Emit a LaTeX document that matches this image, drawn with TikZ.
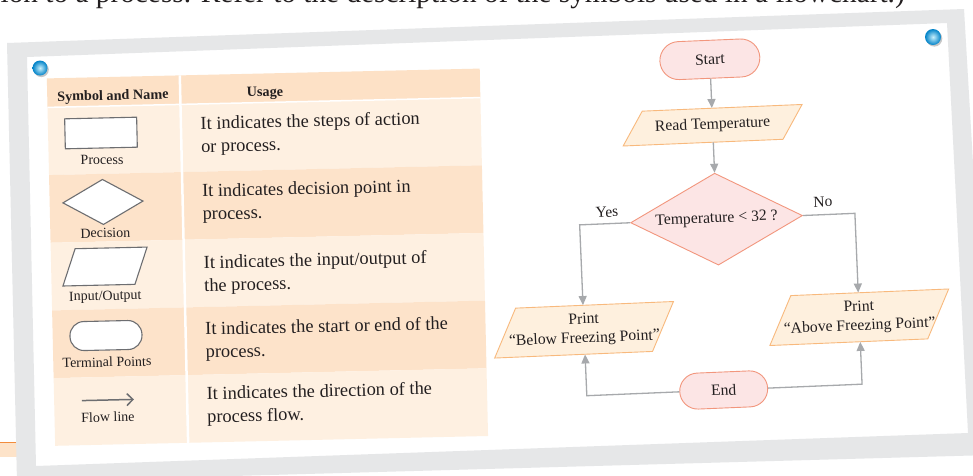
\documentclass[tikz,border=0pt]{standalone}
\usepackage{fontspec}
\setmainfont{Liberation Serif}
\usetikzlibrary{arrows.meta,shapes.geometric}
\definecolor{framegray}{RGB}{230,231,232}
\definecolor{pinkfill}{RGB}{252,229,229}
\definecolor{pinkline}{RGB}{242,150,125}
\definecolor{peachfill}{RGB}{254,240,222}
\definecolor{peachline}{RGB}{248,185,125}
\definecolor{arrgray}{RGB}{167,169,172}
\definecolor{txt}{RGB}{35,31,32}
\definecolor{hdr}{RGB}{253,225,198}
\definecolor{rowlight}{RGB}{254,240,225}
\definecolor{rowdark}{RGB}{253,227,202}
\definecolor{symgray}{RGB}{109,110,113}
\definecolor{dotin}{RGB}{200,240,252}
\definecolor{dotmid}{RGB}{20,175,238}
\definecolor{dotout}{RGB}{0,130,200}
\definecolor{orangebar}{RGB}{242,140,60}
\definecolor{barfill}{RGB}{253,227,201}
\tikzset{
  every node/.style={text=txt},
  term/.style={draw=pinkline, fill=pinkfill, line width=0.9, rounded corners=19,
    minimum width=100, minimum height=38, inner sep=0, font=\fontsize{15.7}{19}\selectfont},
  dec/.style={diamond, draw=pinkline, fill=pinkfill, line width=0.9, aspect=1.87,
    minimum width=172, minimum height=92, inner sep=0, font=\fontsize{15.7}{19}\selectfont},
  para/.style={draw=peachline, fill=peachfill, line width=0.9},
  pnode/.style={rectangle, draw=none, fill=none, inner sep=0, align=center,
    font=\fontsize{15.7}{19}\selectfont},
  lab/.style={inner sep=0, font=\fontsize{15.5}{18}\selectfont},
  arr/.style={draw=arrgray, line width=1.3, -{Triangle[length=9pt,width=8pt]}},
  sym/.style={draw=symgray, fill=white, line width=1.1},
  flowsym/.style={draw=symgray, line width=1.5, -{Straight Barb[length=6pt,width=12pt]}},
  lbl/.style={inner sep=0, font=\fontsize{14}{16}\selectfont},
  hd/.style={inner sep=0, anchor=base, font=\bfseries\fontsize{14.2}{16}\selectfont},
  usage/.style={anchor=west, align=left, inner sep=0, font=\fontsize{18.4}{23}\selectfont},
  bluedot/.style={inner color=dotin, outer color=dotout},
}
\newcommand\parashape[6][]{\path[#1] (#2-#4/2+#6/2,#3-#5/2) -- (#2+#4/2+#6/2,#3-#5/2) -- (#2+#4/2-#6/2,#3+#5/2) -- (#2-#4/2-#6/2,#3+#5/2) -- cycle;}
\begin{document}
\begin{tikzpicture}[x=1pt,y=-1pt]
\useasboundingbox (0,0) rectangle (973,475);
\fill[white] (0,0) rectangle (973,475);
% page text cut at top
\node[anchor=base west, inner sep=0, font=\fontsize{29.3}{32}\selectfont] (pagetext) at (0.5,2)
  {ion to a process. Refer to the description of the symbols used in a flowchart.)};
% orange bar at bottom left
\fill[barfill] (0,442) rectangle (22,457);
\draw[orangebar, line width=1.5] (0,442.5) -- (22,442.5);
% card frame
\fill[framegray, even odd rule] (7,43) -- (964,9) -- (990,455) -- (17,482) -- cycle
  (27,57) -- (947,23) -- (968,433) -- (36,466) -- cycle;
% dots
\fill[black!22] (41.3,69.6) circle (7.5pt);
\shade[bluedot] (40,68) circle (7.5pt);
\fill[black!22] (934.3,38.6) circle (8pt);
\shade[bluedot] (933,37) circle (8pt);
% ---------------- table ----------------
\begin{scope}[rotate around={1.3:(265,260)}, transform shape]
  \fill[hdr] (51,73.5) rectangle (484,102.5);
  \fill[rowlight] (51,102.5) rectangle (484,170.2);
  \fill[rowdark] (51,170.2) rectangle (484,237.9);
  \fill[rowlight] (51,237.9) rectangle (484,305.6);
  \fill[rowdark] (51,305.6) rectangle (484,373.3);
  \fill[rowlight] (51,373.3) rectangle (484,441);
  \draw[white, line width=2.5] (184,73.5) -- (184,441);
  \draw[white, line width=1.5] (51,102.5) -- (484,102.5);
  \node[hd] (h1) at (116.7,96.6) {Symbol and Name};
  \node[hd] (h2) at (268.8,96.6) {Usage};
  % symbols
  \draw[sym] (67.9,114.3) rectangle (139.9,144.3);
  \node[lbl] (l1) at (104.3,156.3) {Process};
  \draw[sym] (64.3,198.3) -- (104.3,175.8) -- (144.3,198.3) -- (104.3,220.8) -- cycle;
  \node[lbl] (l2) at (106,229.4) {Decision};
  \parashape[sym]{104.9}{262.9}{72}{37}{13}
  \node[lbl] (l3) at (104.5,293.4) {Input/Output};
  \draw[sym, rounded corners=14] (68.3,317.4) rectangle (140.3,346.4);
  \node[lbl] (l4) at (104.7,358.4) {Terminal Points};
  \draw[flowsym] (78.8,396.4) -- (130.8,396.4);
  \node[lbl] (l5) at (104.4,413.4) {Flow line};
  % usage
  \node[usage] (u1) at (203.5,135) {It indicates the steps of action\\or process.};
  \node[usage] (u2) at (203.5,202.6) {It indicates decision point in\\process.};
  \node[usage] (u3) at (203.5,274.1) {It indicates the input/output of\\the process.};
  \node[usage] (u4) at (203.5,340.6) {It indicates the start or end of the\\process.};
  \node[usage] (u5) at (203.5,405.2) {It indicates the direction of the\\process flow.};
\end{scope}
% ---------------- flowchart ----------------
\begin{scope}[rotate around={2.4:(720,230)}, transform shape]
  \node[term] (start) at (717,59) {Start};
  \parashape[para]{717}{125}{160}{34}{20.5}
  \node[pnode, minimum width=160, minimum height=34] (read) at (717,125) {Read Temperature};
  \node[dec] (dia) at (717,219) {Temperature < 32 ?};
  \parashape[para]{580}{324}{158}{49}{23}
  \node[pnode, minimum width=158, minimum height=49] (below) at (580,324) {Print\\“Below Freezing Point”};
  \parashape[para]{855.5}{323}{158}{49}{23}
  \node[pnode, minimum width=158, minimum height=49] (above) at (855.5,323) {Print\\“Above Freezing Point”};
  \node[term, minimum width=88, minimum height=36, rounded corners=18] (end) at (717,390) {End};
  \node[lab] (yes) at (607.8,207.3) {Yes};
  \node[lab] (no) at (824,206.3) {No};
  \coordinate (cyes) at (580,219);
  \coordinate (cno) at (855.5,219);
  \coordinate (cendl) at (580,390);
  \coordinate (cendr) at (855.5,390);
  \draw[arr] (start) -- (read);
  \draw[arr] (read) -- (dia);
  \draw[arr] (dia.west) -- (cyes) -- (below.north);
  \draw[arr] (dia.east) -- (cno) -- (above.north);
  \draw[arr] (end.west) -- (cendl) -- (below.south);
  \draw[arr] (end.east) -- (cendr) -- (above.south);
\end{scope}
\end{tikzpicture}
\end{document}
